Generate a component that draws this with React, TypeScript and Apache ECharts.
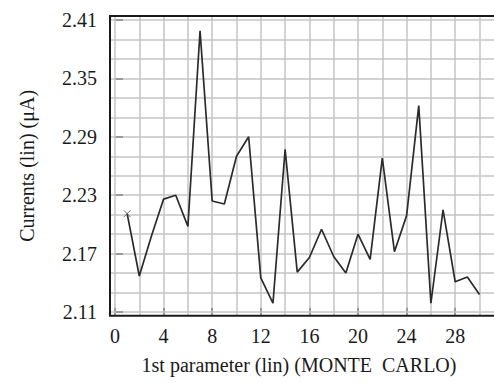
import React, { useEffect, useRef } from "react";
import * as echarts from "echarts";

const runs = [1, 2, 3, 4, 5, 6, 7, 8, 9, 10, 11, 12, 13, 14, 15, 16, 17, 18, 19, 20, 21, 22, 23, 24, 25, 26, 27, 28, 29, 30];
const currents = [2.211, 2.147, 2.188, 2.226, 2.230, 2.198, 2.399, 2.224, 2.221, 2.270, 2.290, 2.145, 2.119, 2.277, 2.151, 2.166, 2.195, 2.167, 2.150, 2.190, 2.164, 2.268, 2.172, 2.209, 2.322, 2.119, 2.215, 2.141, 2.146, 2.128];
const xTicks = [0, 4, 8, 12, 16, 20, 24, 28];
const xGrid = [0, 2, 4, 6, 8, 10, 12, 14, 16, 18, 20, 22, 24, 26, 28, 30, 32];
const yTicks = [2.11, 2.17, 2.23, 2.29, 2.35, 2.41];
const yGrid = [2.11, 2.13, 2.15, 2.17, 2.19, 2.21, 2.23, 2.25, 2.27, 2.29, 2.31, 2.33, 2.35, 2.37, 2.39, 2.41];
const xTitle = "1st parameter (lin) (MONTE  CARLO)";
const yTitle = "Currents (lin) (μA)";

const FONT = "'Liberation Serif', 'Times New Roman', serif";
const INK = "#1a1a1a";
const GRID = "#c4c4c4";

export default function App() {
  const ref = useRef<HTMLDivElement>(null);
  useEffect(() => {
    if (!ref.current) return;
    const chart = echarts.init(ref.current, null, { renderer: "svg" });
    const gridLeft = 110;
    const gridTop = 16;
    const gridW = 400;
    const gridH = 299.7;
    const xMin = -5 / 12.15;
    const xMax = (gridW - 5) / 12.15;
    const yMin = 2.11 - 3.7 / 973.33;
    const yMax = 2.41 + 4 / 973.33;
    const gridLines = [
      ...xGrid.map((v) => ({ xAxis: v })),
      ...yGrid.map((v) => ({ yAxis: v })),
    ];
    chart.setOption({
      animation: false,
      grid: { left: gridLeft, top: gridTop, width: gridW, height: gridH, containLabel: false },
      xAxis: {
        type: "value",
        min: xMin,
        max: xMax,
        position: "bottom",
        axisLine: { show: false },
        axisTick: { show: true, inside: true, length: 8, customValues: xTicks, lineStyle: { color: INK, width: 2 } },
        axisLabel: { show: true, customValues: xTicks, margin: 10, color: INK, fontSize: 20, fontFamily: FONT, formatter: (v: number) => String(Math.round(v)) },
        splitLine: { show: false },
        name: xTitle,
        nameLocation: "middle",
        nameGap: 39,
        nameTextStyle: { color: INK, fontSize: 20, fontFamily: FONT, padding: [0, 22, 0, 0] },
      },
      yAxis: {
        type: "value",
        min: yMin,
        max: yMax,
        position: "left",
        axisLine: { show: false },
        axisTick: { show: true, inside: true, length: 8, customValues: yTicks, lineStyle: { color: INK, width: 2 } },
        axisLabel: { show: true, customValues: yTicks, margin: 13, color: INK, fontSize: 20, fontFamily: FONT, formatter: (v: number) => v.toFixed(2) },
        splitLine: { show: false },
        name: yTitle,
        nameLocation: "middle",
        nameGap: 73,
        nameTextStyle: { color: INK, fontSize: 20, fontFamily: FONT },
      },
      graphic: [
        {
          type: "rect",
          shape: { x: gridLeft, y: gridTop, width: gridW, height: gridH },
          style: { fill: "none", stroke: INK, lineWidth: 2 },
          z: 100,
          silent: true,
        },
      ],
      series: [
        {
          type: "line",
          data: runs.map((r, i) => [r, currents[i]]),
          symbol: "none",
          lineStyle: { color: "#2b2b2b", width: 1.7 },
          z: 5,
          markLine: {
            silent: true,
            z: 1,
            symbol: ["none", "none"],
            label: { show: false },
            lineStyle: { color: GRID, width: 1.5, type: "solid", opacity: 1 },
            emphasis: { disabled: true },
            data: gridLines,
          },
        },
        {
          type: "scatter",
          data: [[runs[0], currents[0]]],
          symbol: "path://M0,0L10,10M10,0L0,10",
          symbolSize: 7,
          itemStyle: { color: "none", borderColor: "#555", borderWidth: 1 },
          z: 6,
        },
      ],
    });
    return () => chart.dispose();
  }, []);
  return (
    <div style={{ position: "absolute", left: 0, top: 0, width: 494, height: 383, overflow: "hidden", background: "#fff" }}>
      <div ref={ref} style={{ width: 520, height: 383 }} />
    </div>
  );
}
